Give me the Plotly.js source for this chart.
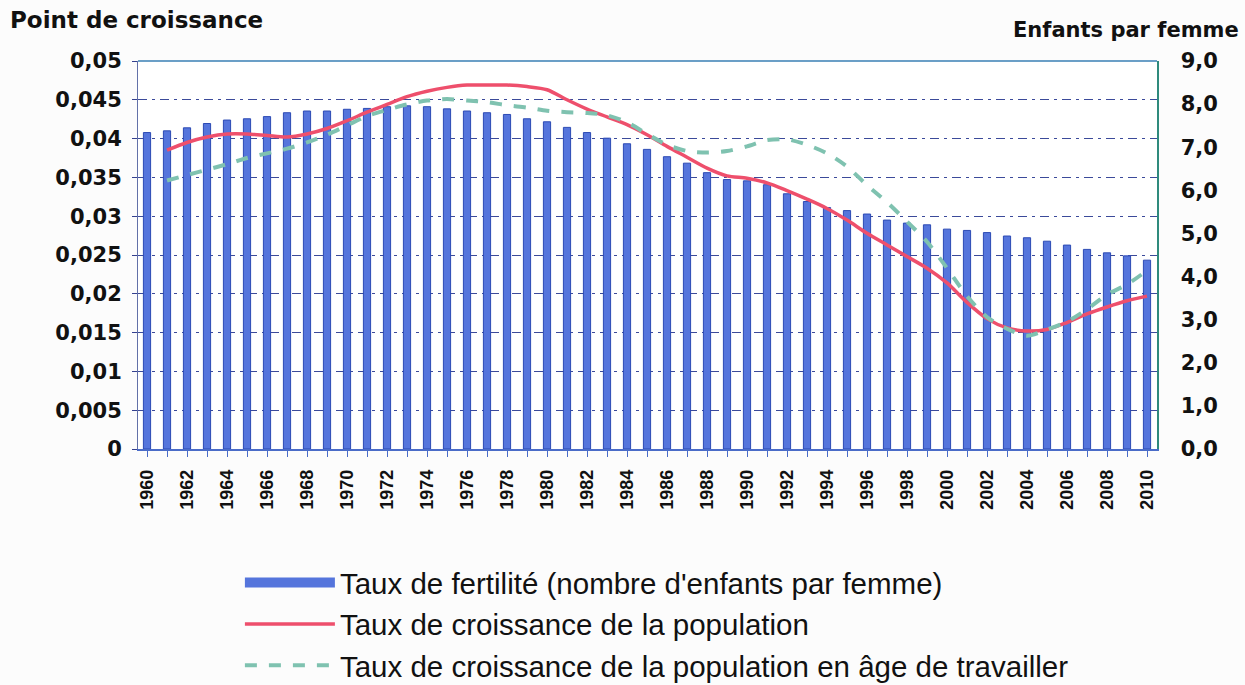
<!DOCTYPE html>
<html>
<head>
<meta charset="utf-8">
<script src="https://cdn.plot.ly/plotly-3.0.1.min.js"></script>
<style>html,body{margin:0;padding:0;background:#fcfcfc;}#chart{width:1245px;height:685px;}</style>
</head>
<body>
<div id="chart"></div>
<script>
var years = [1960,1961,1962,1963,1964,1965,1966,1967,1968,1969,1970,1971,1972,1973,1974,1975,1976,1977,1978,1979,1980,1981,1982,1983,1984,1985,1986,1987,1988,1989,1990,1991,1992,1993,1994,1995,1996,1997,1998,1999,2000,2001,2002,2003,2004,2005,2006,2007,2008,2009,2010];
var fertility = [7.34,7.38,7.45,7.55,7.63,7.66,7.71,7.80,7.84,7.84,7.88,7.90,7.94,7.96,7.94,7.89,7.84,7.80,7.76,7.66,7.59,7.46,7.34,7.21,7.08,6.95,6.78,6.63,6.41,6.25,6.22,6.13,5.92,5.74,5.60,5.53,5.45,5.31,5.24,5.20,5.10,5.07,5.02,4.94,4.90,4.82,4.73,4.63,4.55,4.48,4.38];
var popGrowth = [null,0.0385,0.0395,0.0402,0.0406,0.0406,0.0404,0.0402,0.0406,0.0413,0.0423,0.0434,0.0444,0.0454,0.0461,0.0466,0.0469,0.0469,0.0469,0.0467,0.0463,0.0450,0.0438,0.0428,0.0418,0.0405,0.0390,0.0376,0.0362,0.0352,0.0349,0.0343,0.0333,0.0322,0.0310,0.0295,0.0278,0.0263,0.0248,0.0233,0.0214,0.0189,0.0168,0.0156,0.0152,0.0154,0.0163,0.0174,0.0183,0.0191,0.0197];
var workGrowth = [null,0.0346,0.0353,0.0360,0.0367,0.0375,0.0381,0.0387,0.0395,0.0405,0.0417,0.0429,0.0437,0.0444,0.0449,0.0451,0.0449,0.0447,0.0443,0.0440,0.0436,0.0434,0.0433,0.0430,0.0421,0.0406,0.0392,0.0384,0.0382,0.0384,0.0390,0.0398,0.0399,0.0392,0.0381,0.0364,0.0340,0.0318,0.0293,0.0267,0.0233,0.0197,0.0170,0.0155,0.0146,0.0154,0.0164,0.0180,0.0199,0.0212,0.0230];
var xTickLabels = ["1960","","1962","","1964","","1966","","1968","","1970","","1972","","1974","","1976","","1978","","1980","","1982","","1984","","1986","","1988","","1990","","1992","","1994","","1996","","1998","","2000","","2002","","2004","","2006","","2008","","2010"];
var leftTickVals = [0,0.005,0.01,0.015,0.02,0.025,0.03,0.035,0.04,0.045,0.05];
var leftTickText = ["0","0,005","0,01","0,015","0,02","0,025","0,03","0,035","0,04","0,045","0,05"];
var rightTickVals = [0,1,2,3,4,5,6,7,8,9];
var rightTickText = ["0,0","1,0","2,0","3,0","4,0","5,0","6,0","7,0","8,0","9,0"];
var seriesNames = ["Taux de fertilité (nombre d'enfants par femme)","Taux de croissance de la population","Taux de croissance de la population en âge de travailler"];
var leftTitle = "Point de croissance";
var rightTitle = "Enfants par femme";

var boldFont = {family:"DejaVu Sans", weight:700, color:"#111111"};
var barColor = "#5575dc";

var data = [
  {type:"bar", x:years, y:fertility, name:seriesNames[0], yaxis:"y", showlegend:false, legendgroup:"fert",
   marker:{color:barColor, line:{color:"#2c4ab4", width:1}}},
  /* legend swatch for the bar series (wide band as in the original legend) */
  {type:"scatter", mode:"lines", x:[null], y:[null], name:seriesNames[0], yaxis:"y", legendgroup:"fert",
   line:{color:barColor, width:14}},
  {type:"scatter", mode:"lines", x:years, y:popGrowth, name:seriesNames[1], yaxis:"y2",
   line:{color:"#ee4f6c", width:3.5, shape:"spline", smoothing:0.8}},
  {type:"scatter", mode:"lines", x:years, y:workGrowth, name:seriesNames[2], yaxis:"y2",
   line:{color:"#7fc2b0", width:4, dash:"dash", shape:"spline", smoothing:0.8}}
];

var layout = {
  width:1245, height:685,
  margin:{l:138, r:88, t:61, b:236, autoexpand:false},
  paper_bgcolor:"#fcfcfc", plot_bgcolor:"#ffffff",
  showlegend:true,
  bargap:0.64,
  xaxis:{type:"linear", range:[1959.55,2010.5], tickvals:years, ticktext:xTickLabels,
    tickangle:-90, ticks:"outside", ticklen:6, tickcolor:"#4a6cc8", automargin:false,
    showline:true, linecolor:"#4a6cc8", linewidth:1.5, showgrid:false, zeroline:false,
    tickfont:{family:"Liberation Sans", weight:700, size:18, color:"#111111"}, ticklabelstandoff:6},
  yaxis:{range:[0,9], side:"right", tickvals:rightTickVals, ticktext:rightTickText, automargin:false,
    showgrid:false, zeroline:false, showline:true, linecolor:"#2f8a7c", linewidth:1.5,
    ticks:"", ticklabelstandoff:18,
    tickfont:{family:"DejaVu Sans", weight:700, size:21, color:"#111111"}},
  yaxis2:{range:[0,0.05], side:"left", overlaying:"y", tickvals:leftTickVals, ticktext:leftTickText, automargin:false,
    showgrid:true, gridcolor:"#3b4a9a", griddash:"9px,5px,3px,5px", gridwidth:1,
    zeroline:false, showline:true, linecolor:"#6270a8", linewidth:1,
    ticks:"outside", ticklen:5, tickcolor:"#34408e", ticklabelstandoff:6,
    tickfont:{family:"DejaVu Sans", weight:700, size:21, color:"#111111"}},
  legend:{x:0.1, xanchor:"left", y:-0.278, yanchor:"top", orientation:"v",
    bgcolor:"rgba(0,0,0,0)", itemwidth:90, tracegroupgap:0,
    font:{family:"Liberation Sans", size:29.5, color:"#111111"}},
  shapes:[
    {type:"line", xref:"paper", yref:"paper", x0:0, x1:1, y0:1, y1:1, line:{color:"#3a7fb4", width:1.5}}
  ],
  annotations:[
    {text:leftTitle, xref:"paper", yref:"paper", x:-0.128, y:1.105, xanchor:"left", yanchor:"middle",
     showarrow:false, font:Object.assign({size:23}, boldFont)},
    {text:rightTitle, xref:"paper", yref:"paper", x:1.082, y:1.08, xanchor:"right", yanchor:"middle",
     showarrow:false, font:Object.assign({size:21}, boldFont)}
  ]
};

Plotly.newPlot("chart", data, layout, {displayModeBar:false, staticPlot:true});
</script>
</body>
</html>
